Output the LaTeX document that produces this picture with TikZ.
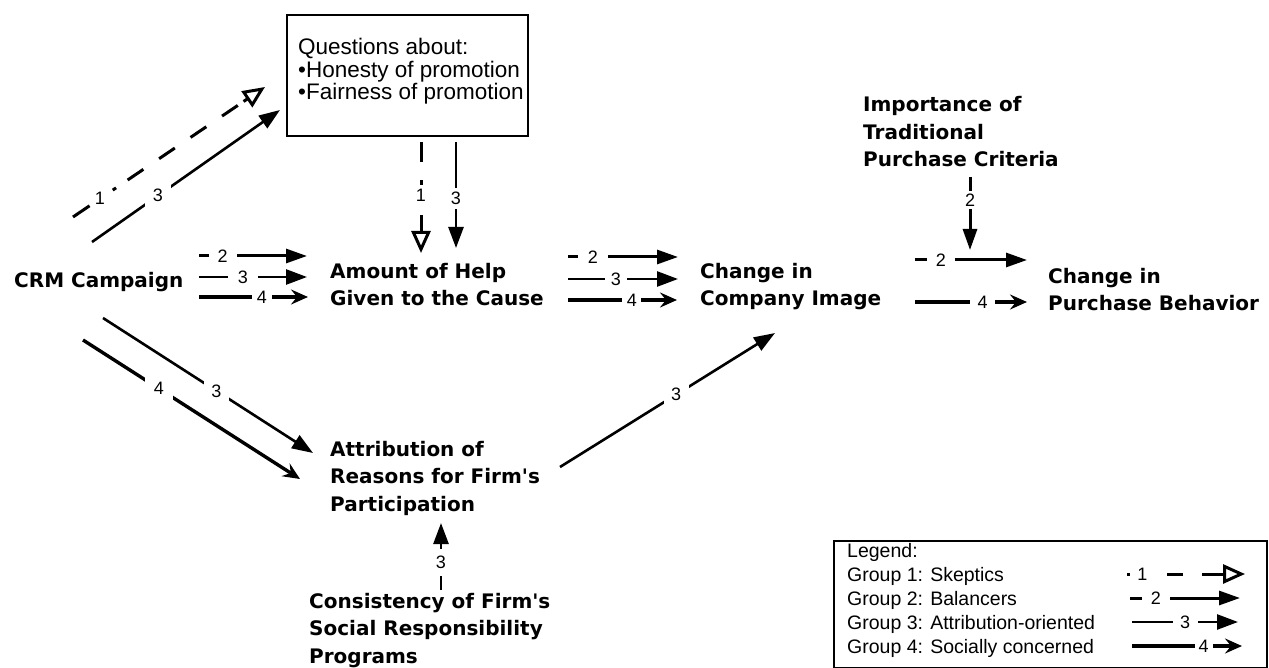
\documentclass[tikz,border=0pt]{standalone}
\usepackage{fontspec}
\setmainfont{Liberation Sans}
\newfontfamily\headfont{DejaVu Sans}
\usetikzlibrary{arrows.meta}

% multi-line nodes below are placed by the baseline of their last line
\tikzset{
  concept/.style={font=\headfont\bfseries\fontsize{20}{27.5}\selectfont, align=left, inner sep=0pt, anchor=base west},
  qtext/.style={font=\fontsize{22.5}{22.5}\selectfont, align=left, inner sep=0pt, anchor=base west},
  legtext/.style={font=\fontsize{19.5}{24}\selectfont, align=left, inner sep=0pt, anchor=base west},
  frame/.style={draw, anchor=north west, inner sep=0pt},
  g1/.style={line width=3pt, -{Triangle[open,length=22pt,width=19pt]}},
  g2/.style={line width=3pt, -{Triangle[length=21pt,width=14pt]}},
  g3/.style={line width=2.6pt, -{Triangle[length=21pt,width=15pt]}},
  g4/.style={line width=3.4pt, -{Stealth[length=17pt,width=15pt,inset=6pt]}},
  numfont/.style={font=\fontsize{18}{18}\selectfont},
  nlab/.style={numfont, inner sep=0pt},
  hlab/.style={numfont, fill=white, inner ysep=2pt, inner xsep=#1},
  hlab/.default=10pt,
  vlab/.style={numfont, fill=white, inner xsep=4pt, inner ysep=#1},
  dlab/.style={numfont, fill=white, inner sep=#1},
}

\begin{document}
\begin{tikzpicture}[x=1pt, y=-1pt]
\useasboundingbox (0,0) rectangle (1269,668);
\fill[white] (0,0) rectangle (1269,668);

% concepts
\node[concept] (crm)   at (14,288)  {CRM Campaign};
\node[concept] (help)  at (330,305.5) {Amount of Help\\Given to the Cause};
\node[concept] (image) at (700,305.5) {Change in\\Company Image};
\node[concept] (behav) at (1048,311) {Change in\\Purchase Behavior};
\node[concept] (crit)  at (863,167) {Importance of\\Traditional\\Purchase Criteria};
\node[concept] (attr)  at (330,511) {Attribution of\\Reasons for Firm's\\Participation};
\node[concept] (cons)  at (309,663) {Consistency of Firm's\\Social Responsibility\\Programs};

% questions box
\node[frame, line width=1.8pt, minimum width=241pt, minimum height=121pt] (quest) at (286,14) {};
\node[qtext] (questtxt) at (298,100) {Questions about:\\•Honesty of promotion\\•Fairness of promotion};

% free ends of the connectors
\coordinate (q1s) at (73,217);   \coordinate (q1e) at (265,87);
\coordinate (q3s) at (92,242);   \coordinate (q3e) at (280,110);
\coordinate (v1s) at (421,142);  \coordinate (v1e) at (421,253);
\coordinate (v3s) at (456,142);  \coordinate (v3e) at (456,248);
\coordinate (h2s) at (199,256);  \coordinate (h2e) at (307,256);
\coordinate (h3s) at (199,277);  \coordinate (h3e) at (307,277);
\coordinate (h4s) at (199,297);  \coordinate (h4e) at (308,297);
\coordinate (m2s) at (568,257);  \coordinate (m2e) at (678,257);
\coordinate (m3s) at (568,279);  \coordinate (m3e) at (678,279);
\coordinate (m4s) at (568,300);  \coordinate (m4e) at (677,300);
\coordinate (r2s) at (915,260);  \coordinate (r2e) at (1027,260);
\coordinate (r4s) at (915,302);  \coordinate (r4e) at (1027,302);
\coordinate (t2s) at (970,177);  \coordinate (t2e) at (970,250);
\coordinate (d3s) at (103,318);  \coordinate (d3e) at (313,453);
\coordinate (d4s) at (83,340);   \coordinate (d4e) at (300,479);
\coordinate (u3s) at (560,467);  \coordinate (u3e) at (775,333);
\coordinate (b3s) at (441,590);  \coordinate (b3e) at (441,523);

% CRM campaign -> questions
\draw[g1, dash pattern=on 20pt off 28pt on 4pt off 14pt on 19pt off 19pt on 19pt off 19pt on 19pt off 19pt on 19pt off 7pt on 60pt]
  (q1s) -- node[nlab, pos=0.14] {1} (q1e);
\draw[g3] (q3s) -- node[dlab=8pt, pos=0.35] {3} (q3e);

% questions -> amount of help
\draw[g1, dash pattern=on 20pt off 18pt on 5pt off 30pt on 100pt]
  (v1s) -- node[nlab, pos=0.48] {1} (v1e);
\draw[g3] (v3s) -- node[vlab=4pt, pos=0.533] {3} (v3e);

% CRM campaign -> amount of help
\draw[g2] (h2s) -- node[hlab=9pt, pos=0.218] {2} (h2e);
\draw[g3] (h3s) -- node[hlab=10pt, pos=0.407] {3} (h3e);
\draw[g4] (h4s) -- node[hlab=5pt, pos=0.578] {4} (h4e);

% amount of help -> company image
\draw[g2] (m2s) -- node[hlab=10pt, pos=0.227] {2} (m2e);
\draw[g3] (m3s) -- node[hlab=6pt, pos=0.436] {3} (m3e);
\draw[g4] (m4s) -- node[hlab=4.5pt, pos=0.587] {4} (m4e);

% company image -> purchase behavior
\draw[g2] (r2s) -- node[hlab=9pt, pos=0.232] {2} (r2e);
\draw[g4] (r4s) -- node[hlab=7.5pt, pos=0.603] {4} (r4e);

% purchase criteria -> purchase behavior
\draw[g2] (t2s) -- node[vlab=3pt, pos=0.315] {2} (t2e);

% CRM campaign -> attribution
\draw[g3] (d3s) -- node[dlab=7.5pt, pos=0.54] {3} (d3e);
\draw[g4] (d4s) -- node[dlab=9pt, pos=0.35] {4} (d4e);

% attribution -> company image
\draw[g3] (u3s) -- node[dlab=7.5pt, pos=0.54] {3} (u3e);

% consistency -> attribution
\draw[g3] (b3s) -- node[vlab=7.5pt, pos=0.41] {3} (b3e);

% legend
\node[frame, line width=1.5pt, minimum width=433pt, minimum height=127pt] (legend) at (833,540) {};
\node[legtext] (legtxt) at (847,653) {Legend:\\Group 1: Skeptics\\Group 2: Balancers\\Group 3: Attribution-oriented\\Group 4: Socially concerned};

\coordinate (k1s) at (1127,574); \coordinate (k1e) at (1245,574);
\coordinate (k2s) at (1130,598); \coordinate (k2e) at (1240,598);
\coordinate (k3s) at (1132,622); \coordinate (k3e) at (1238,622);
\coordinate (k4s) at (1132,646); \coordinate (k4e) at (1242,646);

\draw[g1, dash pattern=on 3pt off 37pt on 16pt off 19pt on 60pt]
  (k1s) -- node[nlab, pos=0.13] {1} (k1e);
\draw[g2] (k2s) -- node[hlab=9pt, pos=0.236] {2} (k2e);
\draw[g3] (k3s) -- node[hlab=7.5pt, pos=0.5] {3} (k3e);
\draw[g4] (k4s) -- node[hlab=4pt, pos=0.65] {4} (k4e);

\end{tikzpicture}
\end{document}
